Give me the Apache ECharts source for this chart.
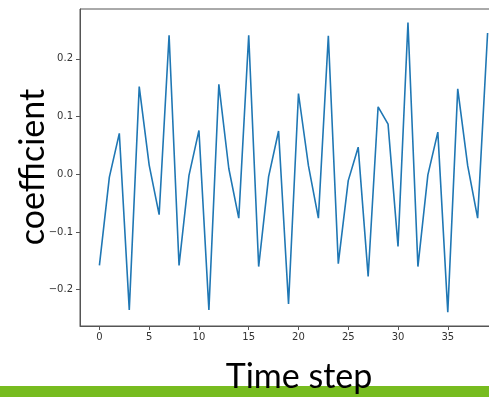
<!DOCTYPE html>
<html>
<head>
<meta charset="utf-8">
<script src="https://cdn.jsdelivr.net/npm/echarts@6/dist/echarts.min.js"></script>
<style>
html, body { margin: 0; padding: 0; background: #fff; }
#chart { width: 489px; height: 397px; }
</style>
</head>
<body>
<div id="chart"></div>
<script>
// values, one per time step
var steps = [];
for (var i = 0; i < 40; i++) steps.push(i);
var coef = [
	-0.158, -0.005, 0.071, -0.235, 0.152, 0.016, -0.070, 0.241,
	-0.158, -0.002, 0.076, -0.235, 0.156, 0.010, -0.076, 0.241,
	-0.160, -0.004, 0.075, -0.225, 0.140, 0.015, -0.076, 0.240,
	-0.155, -0.011, 0.047, -0.177, 0.117, 0.087, -0.125, 0.263,
	-0.160, -0.001, 0.073, -0.239, 0.148, 0.015, -0.076, 0.245
];
var xTicks = [0, 5, 10, 15, 20, 25, 30, 35];
var yTicks = [-0.2, -0.1, 0.0, 0.1, 0.2];

var points = steps.map(function(s, i) { return [s, coef[i]]; });

var chart = echarts.init(document.getElementById('chart'));
var tickFont = { fontFamily: 'DejaVu Sans', fontSize: 10, color: '#333' };
chart.setOption({
	animation: false,
	grid: {
		left: 80,
		top: 9,
		width: 427,
		height: 317,
		outerBoundsMode: 'none',
		show: true,
		borderColor: '#555',
		borderWidth: 1
	},
	xAxis: {
		type: 'value',
		min: -1.95,
		max: 40.95,
		splitLine: { show: false },
		axisLine: { onZero: false, lineStyle: { color: '#555', width: 1 } },
		axisTick: { customValues: xTicks, length: 4, lineStyle: { color: '#555' } },
		axisLabel: Object.assign({ customValues: xTicks, margin: 6 }, tickFont)
	},
	yAxis: {
		type: 'value',
		min: -0.263,
		max: 0.2865,
		splitLine: { show: false },
		axisLine: { show: true, onZero: false, lineStyle: { color: '#555', width: 1 } },
		axisTick: { show: true, customValues: yTicks, length: 4, lineStyle: { color: '#555' } },
		axisLabel: Object.assign({
			customValues: yTicks,
			margin: 7,
			formatter: function(v) { return v.toFixed(1).replace('-', '\u2212'); }
		}, tickFont)
	},
	series: [{
		type: 'line',
		data: points,
		showSymbol: false,
		lineStyle: { color: '#1f77b4', width: 1.6 },
		clip: true
	}],
	graphic: [
		{
			type: 'rect',
			shape: { x: 0, y: 386, width: 489, height: 11 },
			style: { fill: '#77bc1f' },
			z: 10
		},
		{
			type: 'text',
			x: 299,
			y: 360,
			style: {
				text: 'Time step',
				font: '34px Lato, "Open Sans", sans-serif',
				fill: '#000',
				align: 'center',
				verticalAlign: 'top'
			},
			z: 20
		},
		{
			type: 'text',
			x: 16,
			y: 167,
			rotation: Math.PI / 2,
			style: {
				text: 'coefficient',
				font: '34px Lato, "Open Sans", sans-serif',
				fill: '#000',
				align: 'center',
				verticalAlign: 'top'
			},
			z: 20
		}
	]
});
</script>
</body>
</html>
